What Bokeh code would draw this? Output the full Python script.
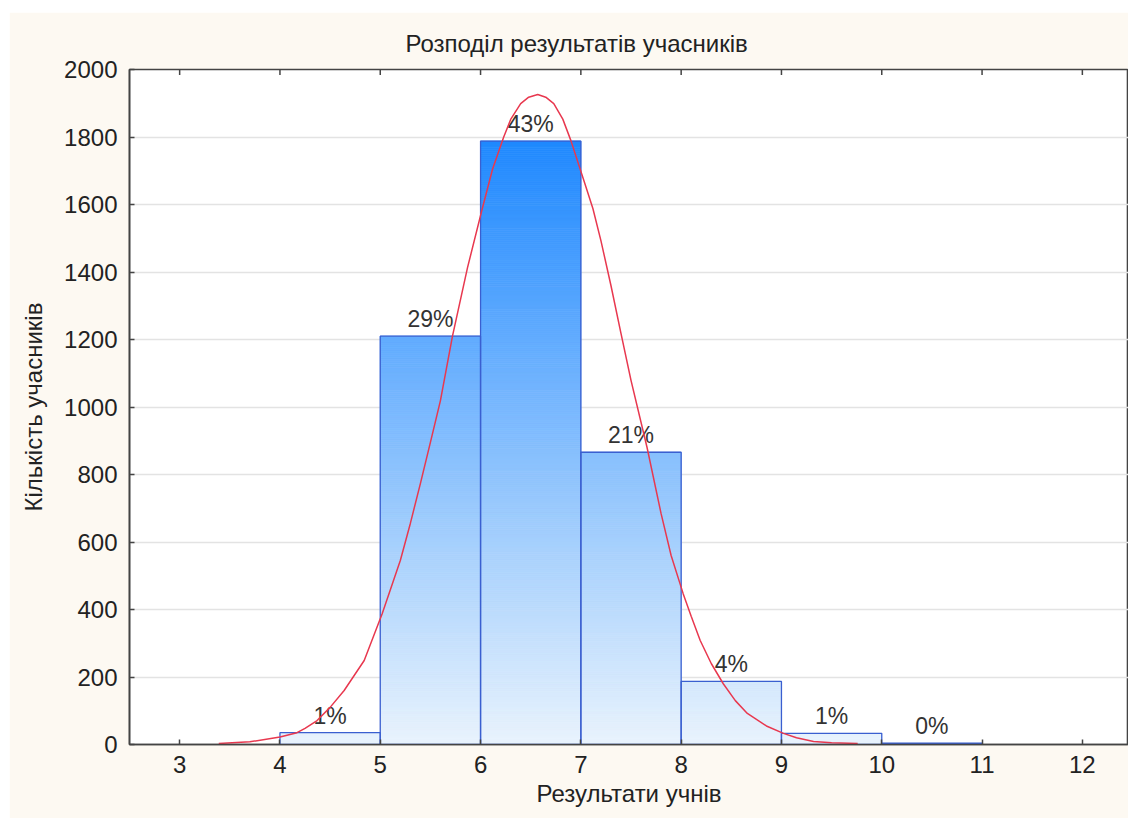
import numpy as np
from bokeh.plotting import figure
from bokeh.models import Range1d, FixedTicker
from bokeh.core.properties import value
from bokeh.embed import file_html
from bokeh.resources import INLINE

# ---- data ----
bin_left = [4, 5, 6, 7, 8, 9, 10]
bin_right = [5, 6, 7, 8, 9, 10, 11]
counts = [35, 1210, 1788, 866, 187, 33, 4]
pct_labels = ["1%", "29%", "43%", "21%", "4%", "1%", "0%"]

curve_x = [3.39, 3.7, 4.0, 4.17, 4.25, 4.37, 4.5, 4.64, 4.84, 5.02, 5.2, 5.3, 5.4,
           5.5, 5.6, 5.72, 5.87, 6.02, 6.12, 6.23, 6.3, 6.4, 6.48, 6.57, 6.65,
           6.73, 6.82, 6.9, 7.03, 7.12, 7.2, 7.3, 7.4, 7.5, 7.66, 7.8, 7.9,
           8.02, 8.1, 8.19, 8.3, 8.42, 8.54, 8.66, 8.85, 9.02, 9.15, 9.32, 9.5, 9.76]
curve_y = [3, 8, 22, 35, 48, 71, 110, 160, 249, 388, 545, 655, 773,
           895, 1019, 1210, 1413, 1591, 1705, 1799, 1852, 1899, 1918, 1926, 1918,
           1899, 1853, 1790, 1671, 1588, 1493, 1360, 1218, 1079, 880, 684, 560,
           447, 380, 308, 240, 180, 130, 92, 55, 33, 20, 9, 5, 3]

x_ticks = [3, 4, 5, 6, 7, 8, 9, 10, 11, 12]
y_ticks = [0, 200, 400, 600, 800, 1000, 1200, 1400, 1600, 1800, 2000]

title_text = "Розподіл результатів учасників"
x_label = "Результати учнів"
y_label = "Кількість учасників"

FONT = "Liberation Sans"
BG = "#fdf9f2"
AX = "#444444"
TXT = "#222222"

p = figure(frame_width=999, frame_height=675,
           min_border_left=120, min_border_top=57, min_border_right=0, min_border_bottom=74,
           x_range=Range1d(2.5, 12.46), y_range=Range1d(0, 2000),
           output_backend="svg", toolbar_location=None,
           title=title_text, background_fill_color="white", border_fill_color=BG)
p.margin = (12, 0, 0, 9)

# ---- gradient-filled bars (vertical colour ramp by value) ----
top_rgb = np.array([30, 136, 254])
bot_rgb = np.array([233, 243, 253])
ramp_top = 1800.0
step = 6.0
ql, qr, qb, qt, qc = [], [], [], [], []
for l, r, h in zip(bin_left, bin_right, counts):
    y0 = 0.0
    while y0 < h:
        y1 = min(y0 + step, h)
        t = min(((y0 + y1) / 2) / ramp_top, 1.0)
        c = bot_rgb + (top_rgb - bot_rgb) * t
        ql.append(l); qr.append(r); qb.append(y0); qt.append(y1)
        qc.append("#%02x%02x%02x" % tuple(int(round(v)) for v in c))
        y0 = y1
p.quad(left=ql, right=qr, bottom=qb, top=qt, fill_color=qc, line_color=qc, line_width=0.8)

p.quad(left=bin_left, right=bin_right, bottom=0, top=counts,
       fill_alpha=0, line_color="#3a5fd0", line_width=1.3)

# ---- percentage labels ----
centers = [(l + r) / 2 for l, r in zip(bin_left, bin_right)]
p.text(x=centers, y=counts, text=pct_labels, text_align="center", text_baseline="bottom",
       y_offset=-4, text_font=value(FONT), text_font_size="23px", text_color="#333333")

# ---- fitted curve ----
p.line(curve_x, curve_y, line_color="#e8384f", line_width=1.5)

# ---- top-edge tick marks (inside the frame) ----
p.scatter(x=x_ticks, y=[2000] * len(x_ticks), marker="dash", angle=np.pi / 2,
          size=11, line_color=AX, line_width=1.5)

# ---- axes ----
for ax in (p.xaxis[0], p.yaxis[0]):
    ax.axis_line_color = AX
    ax.axis_line_width = 1.6
    ax.major_tick_in = 5
    ax.major_tick_out = 0
    ax.major_tick_line_color = AX
    ax.major_tick_line_width = 1.5
    ax.minor_tick_line_color = None
    ax.major_label_text_font = FONT
    ax.major_label_text_font_size = "24px"
    ax.major_label_text_color = TXT
    ax.axis_label_text_font = FONT
    ax.axis_label_text_font_size = "24px"
    ax.axis_label_text_font_style = "normal"
    ax.axis_label_text_color = TXT

p.xaxis.ticker = FixedTicker(ticks=x_ticks)
p.yaxis.ticker = FixedTicker(ticks=y_ticks)
p.xaxis.axis_label = x_label
p.yaxis.axis_label = y_label
p.xaxis.major_label_standoff = 11
p.xaxis.axis_label_standoff = 4
p.yaxis.major_label_standoff = 12
p.yaxis.axis_label_standoff = 14

p.xgrid.visible = False
p.ygrid.ticker = FixedTicker(ticks=y_ticks)
p.ygrid.grid_line_color = "#e3e3e3"
p.ygrid.grid_line_width = 1.5
p.outline_line_color = AX
p.outline_line_width = 1.6

p.title.text_font = FONT
p.title.text_font_size = "24px"
p.title.text_font_style = "normal"
p.title.text_color = TXT
p.title.align = "left"
p.title.offset = 276
p.title.vertical_align = "bottom"
p.title.standoff = 26

open("out.html", "w").write(file_html(p, INLINE))
